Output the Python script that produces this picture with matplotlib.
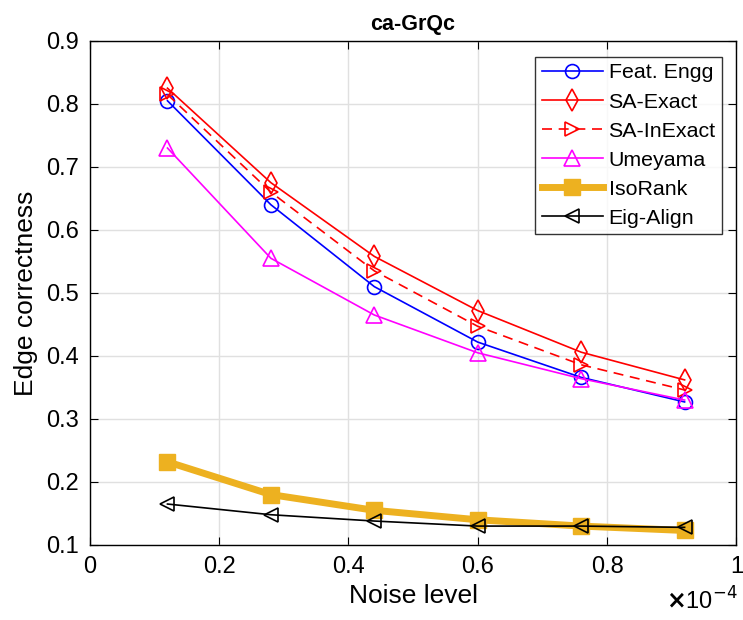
import matplotlib
matplotlib.use("Agg")
import matplotlib.pyplot as plt

plt.rcParams['font.family'] = ['Liberation Sans', 'DejaVu Sans']

noise = [0.12, 0.28, 0.44, 0.60, 0.76, 0.92]
feat_engg = [0.805, 0.640, 0.510, 0.422, 0.366, 0.327]
sa_exact = [0.825, 0.675, 0.558, 0.472, 0.406, 0.362]
sa_inexact = [0.815, 0.660, 0.535, 0.447, 0.386, 0.346]
umeyama = [0.730, 0.555, 0.465, 0.405, 0.364, 0.330]
isorank = [0.232, 0.180, 0.155, 0.140, 0.130, 0.123]
eig_align = [0.165, 0.148, 0.138, 0.130, 0.130, 0.128]

xticks = [0, 0.2, 0.4, 0.6, 0.8, 1]
xtick_labels = ['0', '0.2', '0.4', '0.6', '0.8', '1']
yticks = [0.1, 0.2, 0.3, 0.4, 0.5, 0.6, 0.7, 0.8, 0.9]

fig = plt.figure(figsize=(7.43, 6.2), dpi=100)
ax = fig.add_axes([0.121, 0.121, 0.870, 0.813])

ax.plot(noise, feat_engg, color='blue', lw=1.2, marker='o', ms=10, mfc='none', mew=1.2, label='Feat. Engg')
ax.plot(noise, sa_exact, color='red', lw=1.2, marker='d', ms=11, mfc='none', mew=1.2, label='SA-Exact')
ax.plot(noise, sa_inexact, color='red', lw=1.2, ls=(0, (6, 4)), marker='>', ms=10, mfc='none', mew=1.2, label='SA-InExact')
ax.plot(noise, umeyama, color='magenta', lw=1.2, marker='^', ms=11, mfc='none', mew=1.2, label='Umeyama')
ax.plot(noise, isorank, color='#EDB120', lw=5, marker='s', ms=11, label='IsoRank')
ax.plot(noise, eig_align, color='black', lw=1.2, marker='<', ms=10, mfc='none', mew=1.2, label='Eig-Align')

ax.set_xlim(0, 1)
ax.set_ylim(0.1, 0.9)
ax.set_xticks(xticks)
ax.set_xticklabels(xtick_labels)
ax.set_yticks(yticks)
ax.tick_params(direction='in', top=True, right=True, labelsize=17, length=6, pad=8)
ax.grid(True, color='#e0e0e0', lw=1)
ax.set_axisbelow(True)
for s in ax.spines.values():
    s.set_linewidth(1.0)

ax.set_xlabel('Noise level', fontsize=19, labelpad=4)
ax.set_ylabel('Edge correctness', fontsize=19, labelpad=6)
ax.set_title('ca-GrQc', fontsize=15.5, fontweight='bold', pad=8)

fig.text(0.993, 0.008, r'$\mathbf{\times}$10$^{-4}$', ha='right', va='bottom', fontsize=17)

leg = ax.legend(loc='upper right', fontsize=15.4, frameon=True, fancybox=False,
                edgecolor='black', handlelength=2.85, handletextpad=0.28,
                borderpad=0.3, labelspacing=0.47, borderaxespad=0,
                bbox_to_anchor=(0.978, 0.968))
leg.get_frame().set_linewidth(1.0)

fig.savefig('out.png', dpi=100)
